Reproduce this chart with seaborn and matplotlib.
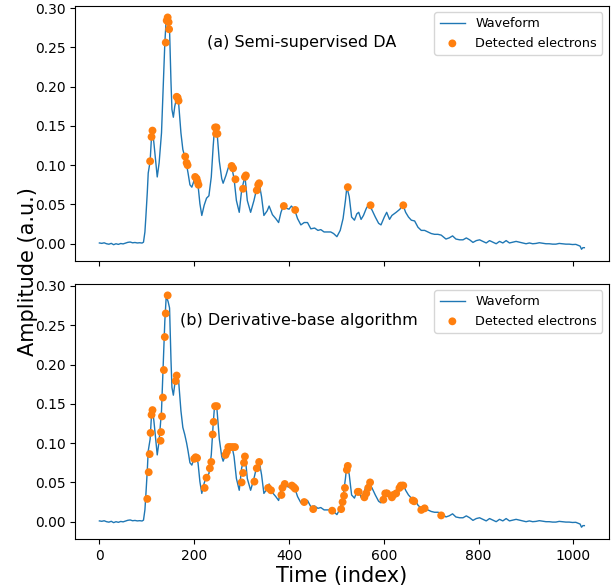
import numpy as np
import pandas as pd
import seaborn as sns
import matplotlib
matplotlib.use("Agg")
import matplotlib.pyplot as plt

# waveform (sample index, amplitude)
wave_idx = [0, 5, 10, 15, 20, 25, 30, 35, 40, 45, 50, 55, 60, 65, 70, 75, 80, 85, 90, 93,
            96, 98, 101, 103, 107, 110, 112, 115, 119, 122, 126, 131, 135, 138, 141, 145, 148,
            151, 153, 156, 159, 163, 167, 172, 176, 180, 184, 187, 191, 195, 200, 205, 208,
            212, 216, 221, 226, 231, 236, 240, 243, 248, 253, 258, 261, 267, 272, 279, 284,
            289, 295, 300, 307, 312, 319, 326, 331, 337, 342, 347, 354, 358, 365, 372, 378,
            383, 388, 395, 400, 405, 412, 418, 425, 432, 439, 446, 454, 461, 467, 474, 481,
            488, 494, 501, 508, 514, 519, 522, 527, 532, 538, 543, 547, 552, 557, 563, 568,
            575, 582, 589, 594, 601, 606, 612, 617, 626, 634, 640, 646, 652, 658, 665, 672,
            679, 686, 693, 700, 707, 714, 721, 731, 738, 745, 752, 760, 767, 774, 781, 788,
            795, 802, 809, 816, 823, 830, 837, 844, 851, 858, 865, 872, 879, 886, 893, 900,
            907, 914, 921, 928, 935, 942, 949, 956, 963, 970, 977, 984, 991, 998, 1005, 1010,
            1014, 1017, 1020, 1023]
wave_amp = [0.001, 0.0005, 0.0012, 0.0, -0.0006, 0.0005, -0.0012, 0.0, -0.0008, 0.0003,
            -0.0002, 0.0008, 0.0018, 0.0022, 0.0012, 0.0016, 0.001, 0.0013, 0.0009, 0.002,
            0.015, 0.034, 0.065, 0.090, 0.105, 0.137, 0.144, 0.128, 0.103, 0.085, 0.103, 0.141,
            0.206, 0.255, 0.287, 0.280, 0.272, 0.206, 0.171, 0.161, 0.175, 0.186, 0.180, 0.141,
            0.120, 0.111, 0.100, 0.090, 0.075, 0.072, 0.081, 0.080, 0.075, 0.051, 0.036, 0.049,
            0.058, 0.061, 0.085, 0.124, 0.148, 0.143, 0.105, 0.083, 0.077, 0.087, 0.097, 0.098,
            0.083, 0.055, 0.040, 0.068, 0.086, 0.055, 0.040, 0.055, 0.068, 0.077, 0.060, 0.036,
            0.042, 0.048, 0.037, 0.032, 0.027, 0.040, 0.048, 0.045, 0.044, 0.048, 0.043, 0.032,
            0.024, 0.027, 0.027, 0.019, 0.020, 0.017, 0.018, 0.015, 0.015, 0.015, 0.013, 0.009,
            0.017, 0.032, 0.055, 0.072, 0.060, 0.034, 0.030, 0.038, 0.040, 0.031, 0.036, 0.045,
            0.050, 0.043, 0.034, 0.026, 0.024, 0.034, 0.040, 0.031, 0.036, 0.040, 0.044, 0.050,
            0.040, 0.034, 0.030, 0.029, 0.021, 0.017, 0.017, 0.015, 0.013, 0.012, 0.012, 0.011,
            0.006, 0.0075, 0.010, 0.006, 0.005, 0.005, 0.0074, 0.005, 0.0017, 0.004, 0.005,
            0.003, 0.001, 0.004, 0.002, 0.0, 0.003, 0.001, 0.004, 0.001, 0.002, 0.003, 0.002,
            0.001, 0.0, 0.001, 0.0, 0.0004, 0.0013, 0.0006, 0.0, 0.0, -0.0005, -0.0005, 0.0004,
            0.0, -0.0005, -0.0005, -0.001, -0.0008, -0.002, -0.003, -0.007, -0.005, -0.005]

# (a) electrons found by the semi-supervised DA
da_idx = [107, 110, 112, 140, 142, 144, 146, 147, 163, 165, 167, 181, 184, 186, 202, 205,
          207, 209, 244, 246, 247, 249, 279, 282, 287, 303, 307, 309, 332, 335, 337, 389,
          413, 524, 572, 641]
da_amp = [0.105, 0.136, 0.144, 0.256, 0.284, 0.288, 0.282, 0.273, 0.187, 0.186, 0.182, 0.111,
          0.103, 0.100, 0.085, 0.083, 0.079, 0.075, 0.148, 0.140, 0.148, 0.140, 0.099, 0.096,
          0.082, 0.070, 0.085, 0.087, 0.068, 0.075, 0.077, 0.048, 0.043, 0.072, 0.049, 0.049]

# (b) electrons found by the derivative-base algorithm
der_idx = [101, 104, 106, 108, 110, 112, 129, 130, 132, 134, 136, 138, 140, 144, 161, 163,
           200, 203, 206, 222, 226, 233, 236, 239, 241, 244, 248, 266, 269, 272, 276, 281,
           286, 300, 303, 305, 307, 327, 332, 337, 356, 362, 384, 386, 391, 406, 410, 413,
           432, 451, 491, 510, 513, 516, 518, 522, 524, 545, 547, 559, 563, 567, 571, 599,
           603, 607, 617, 620, 626, 633, 636, 641, 661, 664, 679, 686, 721]
der_amp = [0.029, 0.063, 0.086, 0.113, 0.136, 0.142, 0.103, 0.114, 0.134, 0.158, 0.193, 0.235,
           0.265, 0.288, 0.179, 0.186, 0.080, 0.082, 0.081, 0.043, 0.056, 0.068, 0.076, 0.111,
           0.127, 0.147, 0.147, 0.085, 0.089, 0.095, 0.095, 0.095, 0.095, 0.050, 0.062, 0.075,
           0.083, 0.051, 0.068, 0.076, 0.043, 0.040, 0.034, 0.043, 0.048, 0.046, 0.044, 0.042,
           0.025, 0.016, 0.014, 0.016, 0.025, 0.033, 0.043, 0.066, 0.071, 0.038, 0.038, 0.031,
           0.036, 0.043, 0.050, 0.028, 0.036, 0.036, 0.031, 0.034, 0.036, 0.043, 0.046, 0.046,
           0.027, 0.026, 0.015, 0.017, 0.008]

panel_titles = ["(a) Semi-supervised DA", "(b) Derivative-base algorithm"]
title_x = [0.247, 0.197]

wave_df = pd.DataFrame({"idx": wave_idx, "amp": wave_amp})
hits = [pd.DataFrame({"idx": da_idx, "amp": da_amp}),
        pd.DataFrame({"idx": der_idx, "amp": der_amp})]

fig, axes = plt.subplots(2, 1, sharex=True, figsize=(6.16, 5.85), dpi=100)
fig.subplots_adjust(left=0.122, right=0.988, top=0.99, bottom=0.079, hspace=0.09)

for i, ax in enumerate(axes):
    sns.lineplot(data=wave_df, x="idx", y="amp", ax=ax, color="tab:blue",
                 linewidth=1.0, label="Waveform")
    sns.scatterplot(data=hits[i], x="idx", y="amp", ax=ax, color="tab:orange",
                    s=32, edgecolor="none", label="Detected electrons", zorder=3)
    ax.set_xlabel("")
    ax.set_ylabel("")
    ax.set_yticks([0.0, 0.05, 0.10, 0.15, 0.20, 0.25, 0.30])
    ax.yaxis.set_major_formatter(matplotlib.ticker.FormatStrFormatter("%.2f"))
    ax.tick_params(labelsize=10)
    ax.text(title_x[i], 0.855, panel_titles[i], transform=ax.transAxes,
            fontsize=11.5, va="center")
    ax.legend(loc="upper right", fontsize=9.2)

axes[1].set_xticks([0, 200, 400, 600, 800, 1000])

fig.text(0.045, 0.535, "Amplitude (a.u.)", rotation=90, fontsize=15,
         ha="center", va="center")
fig.text(0.555, 0.015, "Time (index)", fontsize=15, ha="center", va="center")

plt.savefig("out.png", dpi=100)
